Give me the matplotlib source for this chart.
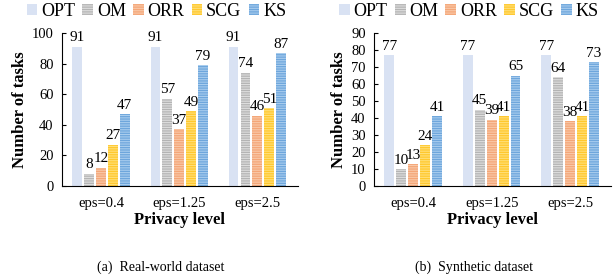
import numpy as np
import matplotlib
matplotlib.use('Agg')
import matplotlib.pyplot as plt
from matplotlib.patches import Patch

plt.rcParams['font.family'] = ['Liberation Serif', 'DejaVu Serif']
plt.rcParams['hatch.linewidth'] = 0.8

groups = ['eps=0.4', 'eps=1.25', 'eps=2.5']
methods = ['OPT', 'OM', 'ORR', 'SCG', 'KS']
real_vals = [[91, 91, 91], [8, 57, 74], [12, 37, 46], [27, 49, 51], [47, 79, 87]]
syn_vals = [[77, 77, 77], [10, 45, 64], [13, 39, 38], [24, 41, 41], [41, 65, 73]]

faces = ['#d9e2f3', '#b4b4b4', '#f4a678', '#ffc82e', '#6ea6dc']
hatchc = ['#d9e2f3', '#dedede', '#f9c9a9', '#ffe07a', '#a9cdee']
hatches = ['', '-------', '-------', '-------', '-------']

fig = plt.figure(figsize=(6.13, 2.79), dpi=100)
ax1 = fig.add_axes([62 / 613, 1 - 186 / 279, (298 - 62) / 613, (186 - 33) / 279])
ax2 = fig.add_axes([374 / 613, 1 - 186 / 279, (611 - 374) / 613, (186 - 33) / 279])

x = np.arange(len(groups))
w = 0.125
step = 0.152

for ax, vals, ymax, ystep, cap in [(ax1, real_vals, 100, 20, '(a)  Real-world dataset'),
                                    (ax2, syn_vals, 90, 10, '(b)  Synthetic dataset')]:
    for i, m in enumerate(methods):
        pos = x + (i - 2) * step
        bars = ax.bar(pos, vals[i], w, color=faces[i], edgecolor=hatchc[i],
                      hatch=hatches[i], linewidth=0, label=m)
        for b, v in zip(bars, vals[i]):
            ax.text(b.get_x() + b.get_width() / 2, v + 1.5 * ymax / 100, str(v),
                    ha='center', va='bottom', fontsize=11)
    ax.set_xlim(-0.5, 2.52)
    ax.set_ylim(0, ymax)
    ax.set_yticks(np.arange(0, ymax + 1, ystep))
    ax.set_xticks(x)
    ax.set_xticklabels(groups, fontsize=10.5)
    ax.tick_params(axis='x', length=0, pad=8)
    ax.tick_params(axis='y', labelsize=10.5, length=3, direction='in', pad=6)
    for s in ['top', 'right']:
        ax.spines[s].set_visible(False)
    ax.set_xlabel('Privacy level', fontsize=12, fontweight='bold', labelpad=1)
    ax.set_ylabel('Number of tasks', fontsize=12, fontweight='bold', labelpad=3)
    handles = [Patch(facecolor=faces[i], edgecolor=hatchc[i], hatch=hatches[i], linewidth=0)
               for i in range(len(methods))]
    ax.legend(handles, methods, loc='center', bbox_to_anchor=(0.40, 1.14), ncol=5,
              frameon=False, fontsize=13, handlelength=0.6, handleheight=0.6,
              handletextpad=0.2, columnspacing=0.4, borderaxespad=0)
    ax.text(0.42, -0.53, cap, transform=ax.transAxes, ha='center', va='center', fontsize=10)

fig.savefig('out.png', dpi=100)
